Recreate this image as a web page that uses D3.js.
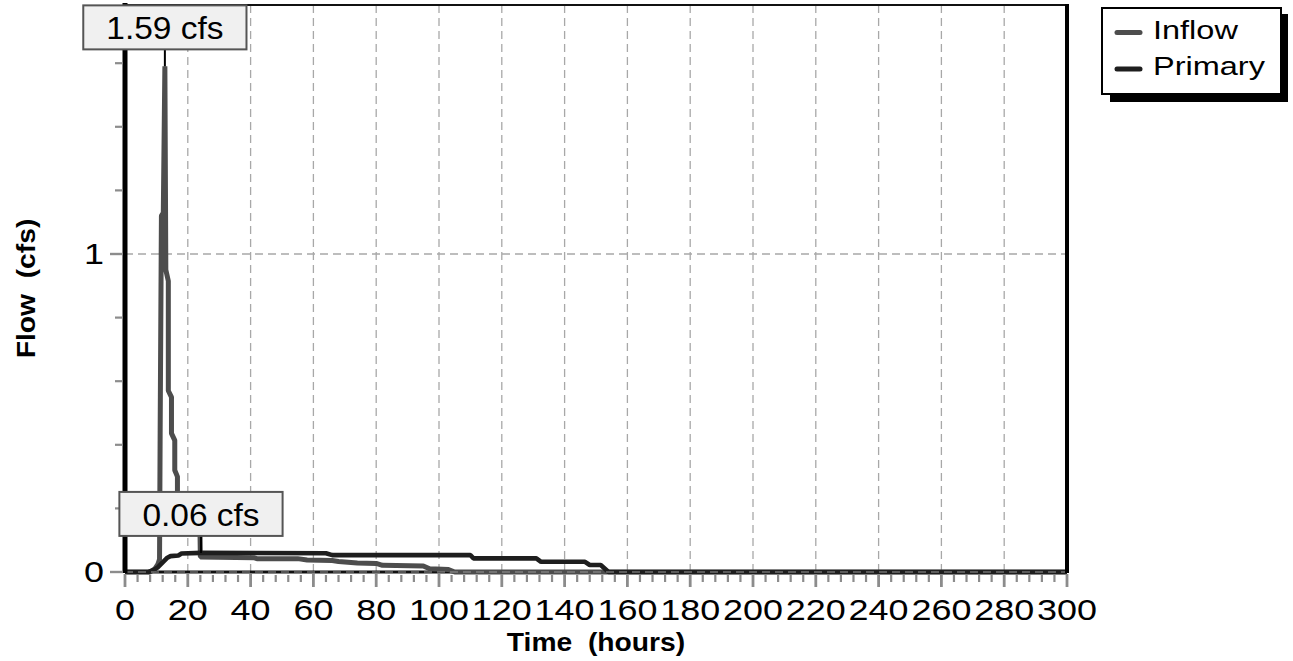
<!DOCTYPE html>
<html>
<head>
<meta charset="utf-8">
<script src="https://cdn.jsdelivr.net/npm/d3@7"></script>
<style>
  body { margin: 0; background: #fff; }
  svg { display: block; }
  text { font-family: "Liberation Sans", Arial, Helvetica, sans-serif; fill: #000; }
</style>
</head>
<body>
<svg id="chart" width="1293" height="661"></svg>
<script>
// Pond hydrograph: inflow vs. primary outflow over 300 hours

const inflowTime = [0, 8.0, 9.5, 10.5, 11.0, 11.2, 11.6, 12.2, 12.7, 13.0, 13.8, 13.8, 14.8, 14.8, 15.85, 15.85,
                    16.7, 16.7, 18, 20, 22, 23.9, 24.0, 41, 42, 55, 58, 66, 68, 74, 80, 82, 95, 97, 103, 105, 300];
const inflowFlow = [0, 0, 0.01, 0.025, 0.04, 0.45, 1.12, 1.13, 1.59, 0.95, 0.915, 0.57, 0.55, 0.436, 0.414, 0.32,
                    0.30, 0.25, 0.2, 0.16, 0.135, 0.115, 0.047, 0.045, 0.042, 0.042, 0.038, 0.036, 0.033, 0.028, 0.027, 0.021, 0.019, 0.01, 0.008, 0, 0];

const primaryTime = [0, 7.5, 9, 10.5, 12, 13.5, 14.5, 17, 18, 24.2, 64, 66, 110, 111, 131, 132.5, 146.5, 148, 151.5, 154, 300];
const primaryFlow = [0, 0, 0.006, 0.015, 0.03, 0.045, 0.05, 0.052, 0.058, 0.06, 0.059, 0.053, 0.053, 0.043, 0.043, 0.032, 0.032, 0.022, 0.022, 0, 0];

const xTickLabels = [0, 20, 40, 60, 80, 100, 120, 140, 160, 180, 200, 220, 240, 260, 280, 300];
const xMinorStep = 4;
const yTickLabels = [0, 1];
const yMinorStep = 0.2;

const seriesNames = ["Inflow", "Primary"];
const xTitle = "Time\u00a0\u00a0(hours)";
const yTitle = "Flow\u00a0\u00a0(cfs)";
const unit = "cfs";

// styling
const colors = { Inflow: "#4d4d4d", Primary: "#1e1e1e" };
const tickGrey = "#8c8c8c";
const gridGrey = "#a8a8a8";

const svg = d3.select("#chart");
const plot = { left: 125, right: 1067, top: 5, bottom: 572 };

const x = d3.scaleLinear().domain([0, 300]).range([plot.left, plot.right]);
const y = d3.scaleLinear().domain([0, 1.783]).range([plot.bottom, plot.top]);

// text with horizontal stretch (wide face)
function stretched(g, str, px, py, opts) {
  return g.append("text")
    .attr("transform", `translate(${px},${py})` + (opts.rotate ? ` rotate(${opts.rotate})` : "") + ` scale(${opts.sx},1)`)
    .attr("text-anchor", opts.anchor || "start")
    .style("font-size", opts.size + "px")
    .style("font-weight", opts.weight || "normal")
    .text(str);
}

// grid
const grid = svg.append("g");
grid.selectAll("line.v").data(xTickLabels.filter(d => d > 0 && d < 300)).join("line")
  .attr("x1", d => x(d)).attr("x2", d => x(d))
  .attr("y1", plot.top).attr("y2", plot.bottom)
  .attr("stroke", gridGrey).attr("stroke-width", 1.3).attr("stroke-dasharray", "8,5");
grid.selectAll("line.h").data(yTickLabels.filter(d => d > 0)).join("line")
  .attr("x1", plot.left).attr("x2", plot.right)
  .attr("y1", d => y(d)).attr("y2", d => y(d))
  .attr("stroke", gridGrey).attr("stroke-width", 1.3).attr("stroke-dasharray", "8,5");

// bottom border under the series
svg.append("line")
  .attr("x1", plot.left).attr("x2", plot.right)
  .attr("y1", plot.bottom).attr("y2", plot.bottom)
  .attr("stroke", "#111").attr("stroke-width", 3);

// series
const line = d3.line().x(d => x(d[0])).y(d => y(d[1]));
const inflow = inflowTime.map((t, i) => [t, inflowFlow[i]]);
const primary = primaryTime.map((t, i) => [t, primaryFlow[i]]);

svg.append("path").datum(inflow)
  .attr("d", line).attr("fill", "none")
  .attr("stroke", colors.Inflow).attr("stroke-width", 5).attr("stroke-linejoin", "bevel");
svg.append("path").datum(primary)
  .attr("d", line).attr("fill", "none")
  .attr("stroke", colors.Primary).attr("stroke-width", 4.6).attr("stroke-linejoin", "bevel");

// zero grid line drawn over the base
svg.append("line")
  .attr("x1", plot.left).attr("x2", plot.right)
  .attr("y1", y(0)).attr("y2", y(0))
  .attr("stroke", "#9a9a9a").attr("stroke-width", 1).attr("stroke-dasharray", "8,5");

// frame
svg.append("line").attr("x1", plot.left).attr("x2", plot.right).attr("y1", plot.top).attr("y2", plot.top)
  .attr("stroke", "#111").attr("stroke-width", 2);
svg.append("line").attr("x1", plot.left).attr("x2", plot.left).attr("y1", plot.top - 2).attr("y2", plot.bottom + 1)
  .attr("stroke", "#000").attr("stroke-width", 5);
svg.append("line").attr("x1", plot.right).attr("x2", plot.right).attr("y1", plot.top - 1).attr("y2", plot.bottom + 1)
  .attr("stroke", "#000").attr("stroke-width", 4);

// x axis ticks
const xAxis = svg.append("g");
const xMinor = d3.range(0, 300 + 0.001, xMinorStep).filter(v => !xTickLabels.includes(v));
xAxis.selectAll("line.minor").data(xMinor).join("line")
  .attr("x1", d => x(d)).attr("x2", d => x(d))
  .attr("y1", plot.bottom + 3).attr("y2", plot.bottom + 10)
  .attr("stroke", tickGrey).attr("stroke-width", 2.2);
xAxis.selectAll("line.major").data(xTickLabels).join("line")
  .attr("x1", d => x(d)).attr("x2", d => x(d))
  .attr("y1", plot.bottom + 2).attr("y2", plot.bottom + 15)
  .attr("stroke", tickGrey).attr("stroke-width", 2.8);
xTickLabels.forEach(v => stretched(xAxis, String(v), x(v), plot.bottom + 48, { sx: 1.24, size: 29, anchor: "middle" }));

// y axis ticks
const yAxis = svg.append("g");
const yMinor = d3.range(0, 1.783, yMinorStep).map(v => +v.toFixed(1)).filter(v => !yTickLabels.includes(v));
yAxis.selectAll("line.minor").data(yMinor).join("line")
  .attr("x1", plot.left - 10).attr("x2", plot.left - 2)
  .attr("y1", d => y(d)).attr("y2", d => y(d))
  .attr("stroke", tickGrey).attr("stroke-width", 2.2);
yAxis.selectAll("line.major").data(yTickLabels).join("line")
  .attr("x1", plot.left - 15).attr("x2", plot.left - 2)
  .attr("y1", d => y(d)).attr("y2", d => y(d))
  .attr("stroke", tickGrey).attr("stroke-width", 2.4);
yTickLabels.forEach(v => stretched(yAxis, String(v), plot.left - 21, y(v) + 10, { sx: 1.24, size: 29, anchor: "end" }));

// axis titles
stretched(svg, xTitle, (plot.left + plot.right) / 2, 651, { sx: 1.13, size: 25, anchor: "middle", weight: "bold" });
stretched(svg, yTitle, 35, (plot.top + plot.bottom) / 2, { sx: 1.13, size: 25, anchor: "middle", weight: "bold", rotate: -90 });

// peak callouts
function callout(series) {
  const i = d3.maxIndex(series, d => d[1]);
  const [t, q] = series[i];
  const px = x(t), py = y(q);
  const g = svg.append("g");
  const boxH = 44, gap = 17;
  const label = `${q.toFixed(2)} ${unit}`;
  g.append("line").attr("x1", px).attr("x2", px).attr("y1", py - gap).attr("y2", py)
    .attr("stroke", "#000").attr("stroke-width", 2);
  const rect = g.append("rect");
  const txt = stretched(g, label, px, py - gap - boxH + 34, { sx: 1.08, size: 31, anchor: "middle" });
  const w = txt.node().getComputedTextLength() * 1.08 + 46;
  rect.attr("x", px - w / 2).attr("y", py - gap - boxH).attr("width", w).attr("height", boxH)
    .attr("fill", "#f0f0f0").attr("stroke", "#555").attr("stroke-width", 2);
}
callout(inflow);
callout(primary);

// legend
const lg = svg.append("g");
lg.append("rect").attr("x", 1110).attr("y", 14).attr("width", 178).attr("height", 88).attr("fill", "#000");
lg.append("rect").attr("x", 1102).attr("y", 8).attr("width", 179).attr("height", 86)
  .attr("fill", "#fff").attr("stroke", "#000").attr("stroke-width", 2);
seriesNames.forEach((name, i) => {
  const base = 38.5 + i * 36.5;
  lg.append("line").attr("x1", 1117).attr("x2", 1140).attr("y1", base - 6).attr("y2", base - 6)
    .attr("stroke", colors[name]).attr("stroke-width", 5).attr("stroke-linecap", "round");
  stretched(lg, name, 1153, base, { sx: 1.3, size: 25 });
});
</script>
</body>
</html>
